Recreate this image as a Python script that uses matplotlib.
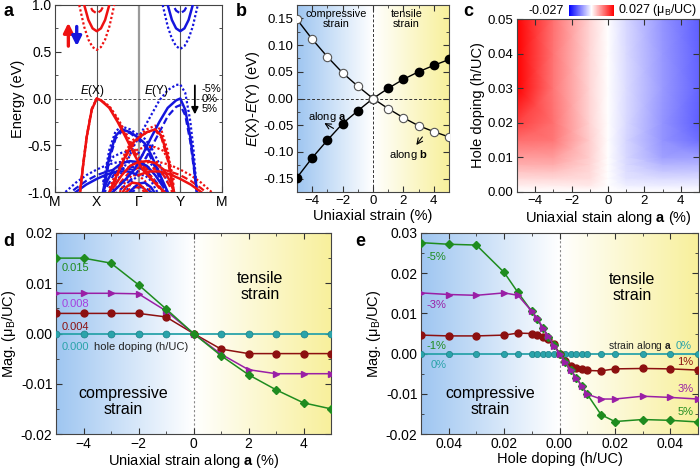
"""Strain / hole-doping tuning of the band splitting and magnetization (panels a-e)."""

import matplotlib
matplotlib.use("Agg")
import matplotlib.pyplot as plt
import numpy as np
from matplotlib.colors import LinearSegmentedColormap
from matplotlib.ticker import MultipleLocator, FixedLocator

plt.rcParams['font.family'] = ['Liberation Sans', 'DejaVu Sans']
plt.rcParams['mathtext.fontset'] = 'custom'
plt.rcParams['mathtext.rm'] = 'Liberation Sans'
plt.rcParams['mathtext.it'] = 'Liberation Sans:italic'
plt.rcParams['mathtext.bf'] = 'Liberation Sans:bold'
plt.rcParams['axes.edgecolor'] = '#444444'

# ---------------- panel a: bands (k path M-X-G-Y-M = 0..4), -5% / 0% / 5% ----------------
k_labels = ['M', 'X', 'Γ', 'Y', 'M']

k_up_cb = [0.58, 0.70, 0.80, 0.90, 1.00, 1.10, 1.20, 1.30, 1.42]
e_up_cb_m5 = [1.00, 0.765, 0.63, 0.55, 0.52, 0.55, 0.63, 0.765, 1.00]
e_up_cb_0 = [1.27, 1.00, 0.84, 0.75, 0.72, 0.75, 0.84, 1.00, 1.27]
e_up_cb_p5 = [1.30, 1.15, 1.02, 0.94, 0.91, 0.94, 1.02, 1.15, 1.30]

k_dn_cb = [2.58, 2.70, 2.80, 2.90, 3.00, 3.10, 3.20, 3.30, 3.42]
e_dn_cb_m5 = [1.00, 0.77, 0.64, 0.56, 0.53, 0.56, 0.64, 0.77, 1.00]
e_dn_cb_0 = [1.27, 1.00, 0.84, 0.75, 0.72, 0.75, 0.84, 1.00, 1.27]
e_dn_cb_p5 = [1.30, 1.15, 1.02, 0.94, 0.91, 0.94, 1.02, 1.15, 1.30]

k_up_v1 = [0.60, 0.68, 0.76, 0.88, 1.00, 1.10, 1.30, 1.50, 1.70, 1.90, 2.10, 2.30, 2.50, 2.62]
e_up_v1_m5 = [-1.00, -0.70, -0.42, -0.12, 0.00, -0.02, -0.08, -0.21, -0.37, -0.54, -0.70, -0.83, -0.94, -1.00]
e_up_v1_0 = [-1.00, -0.69, -0.41, -0.12, 0.00, -0.02, -0.10, -0.25, -0.42, -0.60, -0.76, -0.86, -0.95, -1.00]
e_up_v1_p5 = [-1.00, -0.68, -0.40, -0.11, 0.00, -0.02, -0.09, -0.23, -0.40, -0.57, -0.73, -0.85, -0.96, -1.03]

k_dn_v1 = [1.38, 1.50, 1.70, 1.90, 2.10, 2.30, 2.50, 2.70, 2.90, 3.00, 3.12, 3.24, 3.32, 3.40]
e_dn_v1_m5 = [-0.98, -0.88, -0.70, -0.50, -0.34, -0.18, -0.02, 0.09, 0.145, 0.15, 0.06, -0.24, -0.56, -1.00]
e_dn_v1_0 = [-1.00, -0.95, -0.86, -0.76, -0.60, -0.42, -0.25, -0.10, -0.02, 0.00, -0.12, -0.41, -0.69, -1.00]
e_dn_v1_p5 = [-1.05, -1.00, -0.92, -0.83, -0.70, -0.53, -0.36, -0.19, -0.09, -0.07, -0.18, -0.46, -0.73, -1.02]

k_up_v2 = [1.30, 1.50, 1.70, 1.85, 2.00, 2.20, 2.40, 2.55, 2.70, 2.85]
e_up_v2_m5 = [-0.96, -0.76, -0.56, -0.45, -0.40, -0.33, -0.29, -0.34, -0.56, -0.95]
e_up_v2_0 = [-1.00, -0.80, -0.60, -0.48, -0.42, -0.36, -0.33, -0.40, -0.62, -1.00]
e_up_v2_p5 = [-1.02, -0.82, -0.62, -0.50, -0.43, -0.36, -0.34, -0.42, -0.66, -1.02]

k_dn_v2 = [2.70, 2.50, 2.30, 2.15, 2.00, 1.80, 1.60, 1.45, 1.30, 1.15]
e_dn_v2_m5 = [-0.90, -0.70, -0.52, -0.43, -0.39, -0.33, -0.30, -0.35, -0.55, -0.92]
e_dn_v2_0 = [-1.00, -0.80, -0.60, -0.48, -0.42, -0.36, -0.33, -0.40, -0.62, -1.00]
e_dn_v2_p5 = [-1.04, -0.84, -0.64, -0.51, -0.44, -0.37, -0.35, -0.43, -0.66, -1.03]

k_up_v3 = [1.40, 1.60, 1.80, 2.00, 2.20, 2.40, 2.60, 2.75, 2.85]
e_up_v3_m5 = [-0.90, -0.72, -0.60, -0.54, -0.52, -0.52, -0.56, -0.70, -0.88]
e_up_v3_0 = [-0.95, -0.82, -0.72, -0.68, -0.67, -0.69, -0.76, -0.88, -1.00]
e_up_v3_p5 = [-1.00, -0.88, -0.78, -0.74, -0.73, -0.75, -0.82, -0.94, -1.05]

k_dn_v3 = [2.60, 2.40, 2.20, 2.00, 1.80, 1.60, 1.40, 1.25, 1.15]
e_dn_v3_m5 = [-0.92, -0.76, -0.64, -0.58, -0.56, -0.58, -0.62, -0.74, -0.90]
e_dn_v3_0 = [-0.95, -0.82, -0.72, -0.68, -0.67, -0.69, -0.76, -0.88, -1.00]
e_dn_v3_p5 = [-1.00, -0.88, -0.78, -0.74, -0.73, -0.75, -0.82, -0.94, -1.05]

k_up_v4 = [1.55, 1.70, 1.85, 2.00, 2.15, 2.30]
e_up_v4_m5 = [-1.00, -0.88, -0.82, -0.82, -0.88, -1.00]
e_up_v4_0 = [-1.05, -0.95, -0.90, -0.91, -0.97, -1.05]
e_up_v4_p5 = [-1.10, -1.00, -0.95, -0.95, -1.00, -1.10]

k_dn_v4 = [2.45, 2.30, 2.15, 2.00, 1.85, 1.70]
e_dn_v4_m5 = [-1.00, -0.88, -0.82, -0.82, -0.88, -1.00]
e_dn_v4_0 = [-1.05, -0.95, -0.90, -0.91, -0.97, -1.05]
e_dn_v4_p5 = [-1.10, -1.00, -0.95, -0.95, -1.00, -1.10]

k_dn_v5 = [0.25, 0.50, 0.75, 1.00, 1.25, 1.50, 1.75, 2.00]
e_dn_v5_m5 = [-1.00, -0.90, -0.82, -0.76, -0.71, -0.68, -0.68, -0.72]
e_dn_v5_0 = [-1.10, -1.00, -0.92, -0.86, -0.81, -0.78, -0.78, -0.82]
e_dn_v5_p5 = [-1.05, -0.96, -0.88, -0.82, -0.78, -0.75, -0.75, -0.78]

k_up_v5 = [3.75, 3.50, 3.25, 3.00, 2.75, 2.50, 2.25, 2.00]
e_up_v5_m5 = [-1.00, -0.90, -0.82, -0.76, -0.71, -0.68, -0.68, -0.72]
e_up_v5_0 = [-1.10, -1.00, -0.92, -0.86, -0.81, -0.78, -0.78, -0.82]
e_up_v5_p5 = [-1.05, -0.96, -0.88, -0.82, -0.78, -0.75, -0.75, -0.78]

# ---------------- panel b: E(X)-E(Y) vs uniaxial strain ----------------
strain = [-5, -4, -3, -2, -1, 0, 1, 2, 3, 4, 5]
dE_along_a = [-0.148, -0.111, -0.078, -0.047, -0.023, 0.0, 0.019, 0.036, 0.050, 0.062, 0.073]
dE_along_b = [0.148, 0.111, 0.078, 0.048, 0.023, 0.0, -0.019, -0.036, -0.051, -0.062, -0.072]

# ---------------- panel d: magnetization vs strain, for several hole dopings ----------------
mag_h015 = [0.0150, 0.0150, 0.0140, 0.0097, 0.0049, 0.0, -0.0044, -0.0082, -0.0112, -0.0138, -0.0150]
mag_h008 = [0.0080, 0.0080, 0.0080, 0.0079, 0.0045, 0.0, -0.0041, -0.0072, -0.0080, -0.0080, -0.0080]
mag_h004 = [0.0040, 0.0040, 0.0040, 0.0040, 0.0033, 0.0, -0.0031, -0.0040, -0.0040, -0.0040, -0.0040]
mag_h000 = [0.0, 0.0, 0.0, 0.0, 0.0, 0.0, 0.0, 0.0, 0.0, 0.0, 0.0]

# ---------------- panel e: magnetization vs hole doping, for several strains ----------------
doping = [0.000, 0.002, 0.004, 0.006, 0.008, 0.010, 0.015, 0.020, 0.030, 0.040, 0.050]
mag_s_m5 = [0.0, 0.0021, 0.0042, 0.0063, 0.0085, 0.0105, 0.0152, 0.0202, 0.0270, 0.0272, 0.0276]
mag_s_p5 = [0.0, -0.0020, -0.0040, -0.0060, -0.0080, -0.0101, -0.0152, -0.0169, -0.0164, -0.0166, -0.0170]
mag_s_m3 = [0.0, 0.0019, 0.0043, 0.0064, 0.0088, 0.0105, 0.0145, 0.0151, 0.0145, 0.0147, 0.0151]
mag_s_p3 = [0.0, -0.0020, -0.0040, -0.0060, -0.0080, -0.0101, -0.0113, -0.0113, -0.0106, -0.0109, -0.0113]
mag_s_m1 = [0.0, 0.0024, 0.0036, 0.0042, 0.0046, 0.0050, 0.0051, 0.0046, 0.0044, 0.0044, 0.0046]
mag_s_p1 = [0.0, -0.0018, -0.0031, -0.0035, -0.0039, -0.0042, -0.0043, -0.0038, -0.0037, -0.0038, -0.0041]
mag_s_0 = [0.0] * 11

# panel c map uses the panel e series at these strains
strain_c = [-5, -3, -1, 0, 1, 3, 5]

GREEN = '#1f8c1f'
PURPLE = '#9a1fa6'
DARKRED = '#8c1010'
TEAL = '#2aa3aa'
RED = '#ee1111'
BLUE = '#1515dd'

grad = LinearSegmentedColormap.from_list('bg', ['#9fc6f1', '#ffffff', '#f8f09c'])


def shade(ax, x0, x1, y0, y1):
    ax.imshow(np.linspace(0, 1, 256)[None, :], extent=[x0, x1, y0, y1], aspect='auto',
              cmap=grad, zorder=0, interpolation='bicubic')


def style(ax, lab=9.5):
    ax.tick_params(which='both', direction='in', top=True, right=True, labelsize=lab, colors='#333333',
                   labelcolor='black', pad=2.5)
    ax.tick_params(which='major', length=4, width=0.8)
    ax.tick_params(which='minor', length=2, width=0.6)


fig = plt.figure(figsize=(7, 4.72), dpi=100)

# ================= a =================
ax = fig.add_axes([55 / 700, 1 - 192 / 472, 167 / 700, 187 / 472])
up_bands = [(k_up_cb, e_up_cb_m5, e_up_cb_0, e_up_cb_p5), (k_up_v1, e_up_v1_m5, e_up_v1_0, e_up_v1_p5),
            (k_up_v2, e_up_v2_m5, e_up_v2_0, e_up_v2_p5), (k_up_v3, e_up_v3_m5, e_up_v3_0, e_up_v3_p5),
            (k_up_v4, e_up_v4_m5, e_up_v4_0, e_up_v4_p5), (k_up_v5, e_up_v5_m5, e_up_v5_0, e_up_v5_p5)]
dn_bands = [(k_dn_cb, e_dn_cb_m5, e_dn_cb_0, e_dn_cb_p5), (k_dn_v1, e_dn_v1_m5, e_dn_v1_0, e_dn_v1_p5),
            (k_dn_v2, e_dn_v2_m5, e_dn_v2_0, e_dn_v2_p5), (k_dn_v3, e_dn_v3_m5, e_dn_v3_0, e_dn_v3_p5),
            (k_dn_v4, e_dn_v4_m5, e_dn_v4_0, e_dn_v4_p5), (k_dn_v5, e_dn_v5_m5, e_dn_v5_0, e_dn_v5_p5)]
for bands, col in [(dn_bands, BLUE), (up_bands, RED)]:
    for k, em5, e0, ep5 in bands:
        ax.plot(k, em5, color=col, lw=1.6, ls=(0, (1, 1)), zorder=3)
        ax.plot(k, ep5, color=col, lw=1.6, ls=(0, (3, 1.5)), zorder=3)
        ax.plot(k, e0, color=col, lw=1.8, ls='-', zorder=4)
for kx in [1, 3]:
    ax.axvline(kx, color='#555555', lw=0.8, zorder=2)
ax.axvline(2, color='#9a9a9a', lw=1.6, zorder=2)
ax.axhline(0, color='#555555', lw=0.7, ls=(0, (3, 2)), zorder=2)
ax.set_xlim(0, 4)
ax.set_ylim(-1, 1)
ax.set_xticks(range(5))
ax.set_xticklabels(k_labels)
ax.yaxis.set_major_locator(MultipleLocator(0.5))
ax.yaxis.set_minor_locator(MultipleLocator(0.25))
ax.yaxis.set_major_formatter(matplotlib.ticker.FormatStrFormatter('%.1f'))
style(ax, 10)
ax.tick_params(top=False, right=False)
ax.set_ylabel('Energy (eV)', fontsize=10.5, labelpad=2)
ax.text(0.9, 0.08, '$\\mathit{E}$(X)', fontsize=8.5, ha='center', va='center')
ax.text(2.42, 0.08, '$\\mathit{E}$(Y)', fontsize=8.5, ha='center', va='center')
ax.annotate('', xy=(0.32, 0.81), xytext=(0.32, 0.56),
            arrowprops=dict(arrowstyle='-|>', color=RED, lw=2.4, mutation_scale=14, shrinkA=0, shrinkB=0))
ax.annotate('', xy=(0.52, 0.56), xytext=(0.52, 0.77),
            arrowprops=dict(arrowstyle='-|>', color=BLUE, lw=2.4, mutation_scale=14, shrinkA=0, shrinkB=0))
ax.annotate('', xy=(3.35, -0.17), xytext=(3.35, 0.14),
            arrowprops=dict(arrowstyle='-|>', color='black', lw=1.3, mutation_scale=10, shrinkA=0, shrinkB=0))
for lab, ey in [('-5%', 0.10), ('0%', -0.01), ('5%', -0.11)]:
    ax.text(3.52, ey, lab, fontsize=8, va='center', ha='left')

# ================= b =================
ax = fig.add_axes([297 / 700, 1 - 192 / 472, 152 / 700, 187 / 472])
shade(ax, -5, 5, -0.175, 0.175)
ax.plot(strain, dE_along_a, '-o', color='black', lw=1, ms=6, mfc='black', mec='black', zorder=3)
ax.plot(strain, dE_along_b, '-o', color='black', lw=1, ms=6, mfc='white', mec='#555555', mew=0.8, zorder=3)
ax.axvline(0, color='#333333', lw=0.7, ls=(0, (3, 2)), zorder=1)
ax.axhline(0, color='#333333', lw=0.7, ls=(0, (3, 2)), zorder=1)
ax.set_xlim(-5, 5)
ax.set_ylim(-0.175, 0.175)
ax.xaxis.set_major_locator(MultipleLocator(2))
ax.xaxis.set_minor_locator(MultipleLocator(1))
ax.yaxis.set_major_locator(MultipleLocator(0.05))
ax.yaxis.set_minor_locator(MultipleLocator(0.025))
ax.yaxis.set_major_formatter(matplotlib.ticker.FormatStrFormatter('%.2f'))
style(ax, 9.5)
ax.set_xlabel('Uniaxial strain (%)', fontsize=10.5, labelpad=1)
ax.set_ylabel('$\\mathit{E}$(X)-$\\mathit{E}$(Y) (eV)', fontsize=10.5, labelpad=1)
ax.text(-2.4, 0.148, 'compressive\nstrain', fontsize=7.8, ha='center', va='center', linespacing=1.0)
ax.text(2.2, 0.148, 'tensile\nstrain', fontsize=7.8, ha='center', va='center', linespacing=1.0)
ax.text(-3.0, -0.035, 'along $\\mathbf{a}$', fontsize=8, ha='center', va='center')
ax.annotate('', xy=(-3.2, -0.046), xytext=(-2.6, -0.056),
            arrowprops=dict(arrowstyle='->', lw=0.8, color='black', shrinkA=0, shrinkB=0))
ax.text(2.3, -0.105, 'along $\\mathbf{b}$', fontsize=8, ha='center', va='center')
ax.annotate('', xy=(2.85, -0.087), xytext=(3.25, -0.072),
            arrowprops=dict(arrowstyle='->', lw=0.8, color='black', shrinkA=0, shrinkB=0))

# ================= c =================
ax = fig.add_axes([517 / 700, 1 - 192 / 472, 182 / 700, 173 / 472])
Z = np.column_stack([mag_s_m5, mag_s_m3, mag_s_m1, mag_s_0, mag_s_p1, mag_s_p3, mag_s_p5])
mesh = ax.pcolormesh(strain_c, doping, Z, shading='gouraud', cmap='bwr', vmin=-0.027, vmax=0.027)
ax.set_xlim(-5, 5)
ax.set_ylim(0, 0.05)
ax.xaxis.set_major_locator(MultipleLocator(2))
ax.xaxis.set_minor_locator(MultipleLocator(1))
ax.yaxis.set_major_locator(MultipleLocator(0.01))
ax.yaxis.set_major_formatter(matplotlib.ticker.FormatStrFormatter('%.2f'))
style(ax, 9.5)
ax.tick_params(which='minor', top=False, right=False)
ax.set_xlabel('Uniaxial stain along $\\mathbf{a}$ (%)', fontsize=10.5, labelpad=1)
ax.set_ylabel('Hole doping (h/UC)', fontsize=10.5, labelpad=2)
cax = fig.add_axes([569 / 700, 1 - 16 / 472, 45 / 700, 11 / 472])
cb = fig.colorbar(mesh, cax=cax, orientation='horizontal')
cb.set_ticks([])
cb.outline.set_visible(False)
fig.text(564 / 700, 1 - 10.5 / 472, '-0.027', fontsize=9, ha='right', va='center')
fig.text(618 / 700, 1 - 10.5 / 472, '0.027 (μ$_\\mathrm{B}$/UC)', fontsize=9, ha='left', va='center')

# ================= d =================
ax = fig.add_axes([56 / 700, 1 - 434 / 472, 275 / 700, 201 / 472])
shade(ax, -5, 5, -0.02, 0.02)
ax.axvline(0, color='#888888', lw=0.8, ls=(0, (2, 2)), zorder=1)
ax.plot(strain, mag_h000, '-o', color=TEAL, lw=1.3, ms=5, mec='#1d8088', mew=0.5, zorder=3)
ax.plot(strain, mag_h004, '-o', color=DARKRED, lw=1.1, ms=5, zorder=3)
ax.plot(strain, mag_h008, '->', color=PURPLE, lw=1.1, ms=5, zorder=3)
ax.plot(strain, mag_h015, '-D', color=GREEN, lw=1.1, ms=4, zorder=3)
ax.set_xlim(-5, 5)
ax.set_ylim(-0.02, 0.02)
ax.xaxis.set_major_locator(MultipleLocator(2))
ax.xaxis.set_minor_locator(MultipleLocator(1))
ax.yaxis.set_major_locator(MultipleLocator(0.01))
ax.yaxis.set_minor_locator(MultipleLocator(0.005))
ax.yaxis.set_major_formatter(matplotlib.ticker.FormatStrFormatter('%.2f'))
style(ax, 10)
ax.set_xlabel('Uniaxial strain along $\\mathbf{a}$ (%)', fontsize=10.5, labelpad=0.5)
ax.set_ylabel('Mag. (μ$_\\mathrm{B}$/UC)', fontsize=10.5, labelpad=2)
ax.text(-4.79, 0.0131, '0.015', color=GREEN, fontsize=8, va='center', zorder=5)
ax.text(-4.79, 0.0058, '0.008', color='#a43fe0', fontsize=8, va='center', zorder=5)
ax.text(-4.79, 0.0013, '0.004', color=DARKRED, fontsize=8, va='center', zorder=5)
ax.text(-4.79, -0.0026, '0.000', color=TEAL, fontsize=8, va='center', zorder=5)
ax.text(-3.6, -0.0026, 'hole doping (h/UC)', color='#222222', fontsize=8, va='center', zorder=5)
ax.text(2.43, 0.0093, 'tensile\nstrain', fontsize=11.5, ha='center', va='center', linespacing=1.1)
ax.text(-2.54, -0.0136, 'compressive\nstrain', fontsize=11.5, ha='center', va='center', linespacing=1.1)

# ================= e =================
ax = fig.add_axes([421 / 700, 1 - 434 / 472, 277 / 700, 201 / 472])
shade(ax, -0.05, 0.05, -0.02, 0.03)
ax.axvline(0, color='#888888', lw=0.8, ls=(0, (2, 2)), zorder=1)
x_e = [-d for d in doping[::-1]] + doping[1:]
ax.plot(x_e, mag_s_0[::-1] + mag_s_0[1:], '-o', color=TEAL, lw=1.3, ms=4.5, mec='#1d8088', mew=0.5, zorder=3)
ax.plot(x_e, mag_s_m1[::-1] + mag_s_p1[1:], '-o', color=DARKRED, lw=1.1, ms=5, zorder=3)
ax.plot(x_e, mag_s_m5[::-1] + mag_s_p5[1:], '-D', color=GREEN, lw=1.1, ms=4, zorder=3)
ax.plot(x_e, mag_s_m3[::-1] + mag_s_p3[1:], '->', color=PURPLE, lw=1.1, ms=5, zorder=4)
ax.set_xlim(-0.05, 0.05)
ax.set_ylim(-0.02, 0.03)
ax.xaxis.set_major_locator(FixedLocator([-0.04, -0.02, 0.0, 0.02, 0.04]))
ax.set_xticklabels(['0.04', '0.02', '0.00', '0.02', '0.04'])
ax.xaxis.set_minor_locator(MultipleLocator(0.01))
ax.yaxis.set_major_locator(MultipleLocator(0.01))
ax.yaxis.set_minor_locator(MultipleLocator(0.005))
ax.yaxis.set_major_formatter(matplotlib.ticker.FormatStrFormatter('%.2f'))
style(ax, 10)
ax.set_xlabel('Hole doping (h/UC)', fontsize=10.5, labelpad=0.5)
ax.set_ylabel('Mag. (μ$_\\mathrm{B}$/UC)', fontsize=10.5, labelpad=2)
ax.text(-0.048, 0.0241, '-5%', color=GREEN, fontsize=8, va='center', zorder=5)
ax.text(-0.048, 0.0121, '-3%', color=PURPLE, fontsize=8, va='center', zorder=5)
ax.text(-0.048, 0.0020, '-1%', color=GREEN, fontsize=8, va='center', zorder=5)
ax.text(-0.0465, -0.0028, '0%', color=TEAL, fontsize=8, va='center', zorder=5)
ax.text(0.0407, 0.0020, 'strain along $\\mathbf{a}$', color='#222222', fontsize=7.5, ha='right', va='center',
        zorder=5)
ax.text(0.0420, 0.0020, '0%', color=TEAL, fontsize=8, va='center', zorder=5)
ax.text(0.0426, -0.0022, '1%', color=DARKRED, fontsize=8, va='center', zorder=5)
ax.text(0.0426, -0.0088, '3%', color=PURPLE, fontsize=8, va='center', zorder=5)
ax.text(0.0426, -0.0146, '5%', color=GREEN, fontsize=8, va='center', zorder=5)
ax.text(0.0262, 0.0165, 'tensile\nstrain', fontsize=11.5, ha='center', va='center', linespacing=1.1)
ax.text(-0.0251, -0.0120, 'compressive\nstrain', fontsize=11.5, ha='center', va='center', linespacing=1.1)

# panel letters
for lab, px, py in [('a', 3, 11), ('b', 236, 11), ('c', 463, 11), ('d', 3, 241), ('e', 355, 241)]:
    fig.text(px / 700, 1 - py / 472, lab, fontsize=13, fontweight='bold', va='center', ha='left')

fig.savefig('out.png', dpi=100)
